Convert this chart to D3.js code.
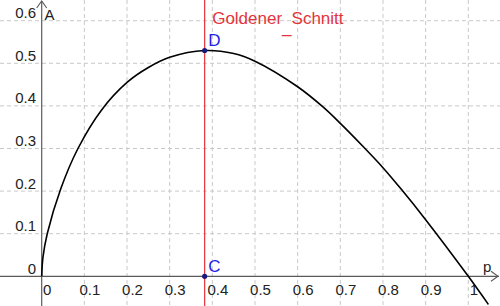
<!DOCTYPE html>
<html>
<head>
<meta charset="utf-8">
<script src="https://cdn.jsdelivr.net/npm/d3@7"></script>
<style>
  html, body { margin: 0; padding: 0; background: #fff; }
  svg { display: block; }
  text { font-family: "Liberation Sans", Arial, sans-serif; }
</style>
</head>
<body>
<svg id="chart" width="500" height="306"></svg>
<script>
// ---- data ----
const pValues = [0, 0.003, 0.013, 0.0445, 0.085, 0.14, 0.2, 0.25, 0.3, 0.382, 0.45, 0.5, 0.6, 0.66, 0.7, 0.754, 0.8, 0.844, 0.9, 1.0, 1.047];
const aValues = [0, 0.045, 0.1, 0.205, 0.3, 0.39, 0.455, 0.49, 0.514, 0.530, 0.523, 0.505, 0.445, 0.397, 0.359, 0.304, 0.255, 0.203, 0.133, 0, -0.066];
const xTicks = [0, 0.1, 0.2, 0.3, 0.4, 0.5, 0.6, 0.7, 0.8, 0.9, 1];
const xTickLabels = ["0", "0.1", "0.2", "0.3", "0.4", "0.5", "0.6", "0.7", "0.8", "0.9", "1"];
const yTicks = [0, 0.1, 0.2, 0.3, 0.4, 0.5, 0.6];
const yTickLabels = ["0", "0.1", "0.2", "0.3", "0.4", "0.5", "0.6"];
const goldenP = [0.382];
const pointNames = ["D", "C"];
const pointA = [0.530, 0];
const markerTexts = ["Goldener", "_", "Schnitt"];
const axisNames = ["p", "A"];

// ---- drawing ----
const W = 500, H = 306;
const svg = d3.select("#chart");
const x = d3.scaleLinear().domain([0, 1]).range([41.7, 468.3]);
const y = d3.scaleLinear().domain([0, 0.6]).range([276.3, 20.7]);

const gridColor = "#c9c9c9";
const axisColor = "#5a5a5a";
const red = "#e3343c";
const blue = "#1f1fe6";

// grid
svg.append("g").selectAll("line").data(xTicks.filter(d => d !== 0)).join("line")
  .attr("x1", d => x(d)).attr("x2", d => x(d)).attr("y1", 0).attr("y2", H)
  .attr("stroke", gridColor).attr("stroke-width", 1).attr("stroke-dasharray", "4,3");
svg.append("g").selectAll("line").data(yTicks.filter(d => d !== 0)).join("line")
  .attr("y1", d => y(d)).attr("y2", d => y(d)).attr("x1", 0).attr("x2", W)
  .attr("stroke", gridColor).attr("stroke-width", 1).attr("stroke-dasharray", "4,3");

// axes
const x0 = x(0), y0 = y(0);
svg.append("line").attr("x1", 0).attr("x2", W - 1).attr("y1", y0).attr("y2", y0)
  .attr("stroke", axisColor).attr("stroke-width", 1.2);
svg.append("line").attr("x1", x0).attr("x2", x0).attr("y1", 1).attr("y2", H)
  .attr("stroke", axisColor).attr("stroke-width", 1.2);
// arrows
svg.append("path").attr("d", `M${W - 9},${y0 - 5}L${W - 2},${y0}L${W - 9},${y0 + 5}`)
  .attr("fill", "none").attr("stroke", axisColor).attr("stroke-width", 1.1);
svg.append("path").attr("d", `M${x0 - 5},${8}L${x0},${1}L${x0 + 5},${8}`)
  .attr("fill", "none").attr("stroke", axisColor).attr("stroke-width", 1.1);

// tick labels
svg.append("g").selectAll("text").data(xTicks).join("text")
  .attr("x", d => x(d) + 5.5).attr("y", 295)
  .attr("text-anchor", "middle").attr("font-size", 15).attr("fill", "#222")
  .text((d, i) => xTickLabels[i]);
svg.append("g").selectAll("text").data(yTicks).join("text")
  .attr("x", 36).attr("y", d => y(d) - 2.5)
  .attr("text-anchor", "end").attr("font-size", 15).attr("fill", "#222")
  .text((d, i) => yTickLabels[i]);

// axis names
svg.append("text").attr("x", 483).attr("y", 272).attr("font-size", 15).attr("fill", "#222").text(axisNames[0]);
svg.append("text").attr("x", 44.5).attr("y", 20).attr("font-size", 15).attr("fill", "#222").text(axisNames[1]);

// golden section line
svg.append("g").selectAll("line").data(goldenP).join("line")
  .attr("x1", d => x(d)).attr("x2", d => x(d)).attr("y1", 0).attr("y2", H)
  .attr("stroke", red).attr("stroke-width", 1.2);
const gt = svg.append("text").attr("x", x(goldenP[0]) + 7.5).attr("y", 24)
  .attr("font-size", 17).attr("fill", red);
gt.append("tspan").text(markerTexts[0]);
gt.append("tspan").attr("dy", 9).text(markerTexts[1]);
gt.append("tspan").attr("dy", -9).text(markerTexts[2]);

// curve
const pts = pValues.map((p, i) => [p, aValues[i]]);
svg.append("path").datum(pts)
  .attr("d", d3.line().x(d => x(d[0])).y(d => y(d[1])).curve(d3.curveCatmullRom.alpha(0.5)))
  .attr("fill", "none").attr("stroke", "#000").attr("stroke-width", 1.6);

// points
svg.append("g").selectAll("circle").data(pointA).join("circle")
  .attr("cx", x(goldenP[0])).attr("cy", d => y(d)).attr("r", 2.6)
  .attr("fill", "#1a1a7a");
svg.append("g").selectAll("text").data(pointA).join("text")
  .attr("x", x(goldenP[0]) + 3.5).attr("y", d => y(d) - 4.5)
  .attr("font-size", 17).attr("fill", blue)
  .text((d, i) => pointNames[i]);
</script>
</body>
</html>
